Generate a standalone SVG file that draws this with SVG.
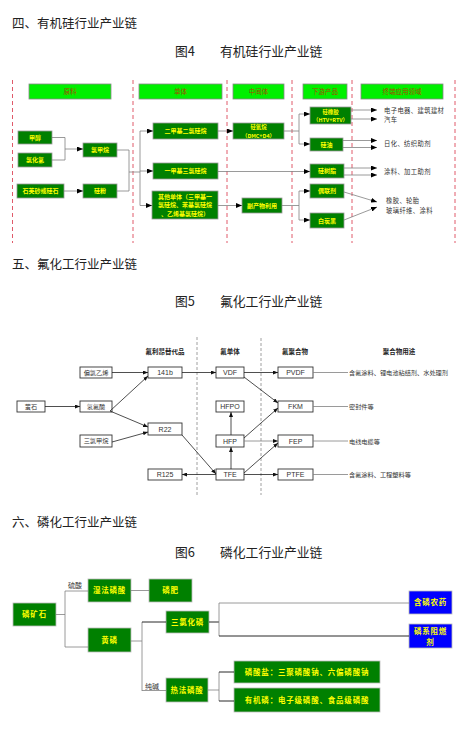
<svg xmlns="http://www.w3.org/2000/svg" width="465" height="736" viewBox="0 0 465 736">
<defs>
<style>
text{font-family:"Noto Sans CJK SC","Liberation Sans",sans-serif}
.h1{font-size:12.5px;fill:#222}
.cap{font-size:12.8px;fill:#222}
.vd{stroke:#e05a6a;stroke-width:1;stroke-dasharray:4,3}
.vg{stroke:#888;stroke-width:0.8;stroke-dasharray:3,2}
.hdr rect{fill:#00f000;stroke:#888;stroke-width:0.8}
.hdr text{font-size:6.5px;fill:#a04a00;text-anchor:middle}
.g rect{fill:#008000;stroke:#999;stroke-width:0.8}
.g text{font-size:6px;font-weight:bold;fill:#ffff00;text-anchor:middle}
.g text.s{font-size:5.4px}
.w rect{fill:#fff;stroke:#333;stroke-width:0.9}
.w text{font-family:"Liberation Sans",sans-serif;font-size:7px;fill:#333;text-anchor:middle}
.w text.c{font-family:"Noto Sans CJK SC",sans-serif;font-size:6.2px}
.p rect{fill:#008000;stroke:#bbb;stroke-width:0.8}
.p text{font-size:7.5px;font-weight:bold;fill:#ffff00;text-anchor:middle;letter-spacing:0.8px}
.b rect{fill:#0000ff;stroke:#bbb;stroke-width:0.8}
.b text{font-size:7.5px;font-weight:bold;fill:#ffff00;text-anchor:middle;letter-spacing:0.8px}
.lg{fill:none;stroke:#808080;stroke-width:0.8}
.lk{fill:none;stroke:#222;stroke-width:0.8}
.lb{fill:none;stroke:#111;stroke-width:0.9}
.t1{font-size:6.3px;fill:#333;letter-spacing:0.4px}
.t2{font-size:6.2px;fill:#333}
.t3{font-size:6.5px;fill:#222;font-weight:bold;text-anchor:middle}
.t4{font-size:7px;fill:#333}
</style>
<marker id="a" markerUnits="userSpaceOnUse" markerWidth="6" markerHeight="5" refX="6" refY="2.5" orient="auto"><path d="M0,0 L6,2.5 L0,5 Z" fill="#000"/></marker>
<marker id="s" markerUnits="userSpaceOnUse" markerWidth="5" markerHeight="4" refX="5" refY="2" orient="auto"><path d="M0,0 L5,2 L0,4 Z" fill="#111"/></marker>
</defs>
<rect width="465" height="736" fill="#fff"/>

<!-- Section 4 -->
<text class="h1" x="12" y="28">四、有机硅行业产业链</text>
<text class="cap" x="175" y="56">图4</text>
<text class="cap" x="220" y="56">有机硅行业产业链</text>

<g id="dividers4">
<line class="vd" x1="12.5" y1="80" x2="12.5" y2="243"/>
<line class="vd" x1="133" y1="80" x2="133" y2="243"/>
<line class="vd" x1="227" y1="80" x2="227" y2="243"/>
<line class="vd" x1="292" y1="80" x2="292" y2="243"/>
<line class="vd" x1="352" y1="80" x2="352" y2="243"/>
<line class="vd" x1="455" y1="80" x2="455" y2="243"/>
</g>

<g id="h-yuanliao" class="hdr"><rect x="29" y="84" width="82" height="15"/><text x="70" y="94">原料</text></g>
<g id="h-danti" class="hdr"><rect x="139" y="84" width="83" height="15"/><text x="180.5" y="94">单体</text></g>
<g id="h-zhongjianti" class="hdr"><rect x="233" y="84" width="51" height="15"/><text x="258.5" y="94">中间体</text></g>
<g id="h-xiayou" class="hdr"><rect x="303" y="84" width="44" height="15"/><text x="325" y="94">下游产品</text></g>
<g id="h-zhongduan" class="hdr"><rect x="361" y="84" width="82" height="15"/><text x="402" y="94">终端应用领域</text></g>

<g id="n-jiachun" class="g"><rect x="18" y="131" width="34" height="13"/><text x="35" y="139.7">甲醇</text></g>
<g id="n-lvhuaqing" class="g"><rect x="18" y="153" width="34" height="14"/><text x="35" y="162.2">氯化氢</text></g>
<g id="n-lvjiawan" class="g"><rect x="83" y="143" width="34" height="14"/><text x="100" y="152.2">氯甲烷</text></g>
<g id="n-shiyingsha" class="g"><rect x="17" y="184" width="47" height="14"/><text x="40.5" y="193.2">石英砂或硅石</text></g>
<g id="n-guifen" class="g"><rect x="83" y="184" width="34" height="14"/><text x="100" y="193.2">硅粉</text></g>
<g id="n-erjia" class="g"><rect x="153" y="123" width="65" height="16"/><text x="185.5" y="133.2">二甲基二氯硅烷</text></g>
<g id="n-yijia" class="g"><rect x="153" y="163" width="65" height="16"/><text x="185.5" y="173.2">一甲基三氯硅烷</text></g>
<g id="n-qita" class="g"><rect x="152" y="191" width="66" height="28"/><text x="185" y="199">其他单体（三甲基一</text><text x="185" y="207.3">氯硅烷、苯基氯硅烷</text><text x="185" y="215.6">、乙烯基氯硅烷）</text></g>
<g id="n-guiyangwan" class="g"><rect x="233" y="123" width="51" height="16"/><text class="s" x="258.5" y="129.3">硅氧烷</text><text class="s" x="258.5" y="137.5">（DMC+D4）</text></g>
<g id="n-fuchanwu" class="g"><rect x="242" y="198" width="40" height="15"/><text x="262" y="207.7">副产物利用</text></g>
<g id="n-guixiangjiao" class="g"><rect x="310" y="107" width="41" height="17"/><text class="s" x="330.5" y="113.6">硅橡胶</text><text class="s" x="330.5" y="122">（HTV+RTV）</text></g>
<g id="n-guiyou" class="g"><rect x="310" y="138" width="33" height="13"/><text x="326.5" y="146.7">硅油</text></g>
<g id="n-guishuzhi" class="g"><rect x="310" y="164" width="34" height="14"/><text x="327" y="173.2">硅树脂</text></g>
<g id="n-oulianji" class="g"><rect x="310" y="184" width="34" height="14"/><text x="327" y="193.2">偶联剂</text></g>
<g id="n-baitanhei" class="g"><rect x="310" y="213" width="34" height="15"/><text x="327" y="222.7">白炭黑</text></g>

<g id="connectors4">
<path class="lg" d="M52,137.5 H65 V160 H52"/>
<path class="lg" d="M65,149 H83" marker-end="url(#a)"/>
<path class="lg" d="M64,191 H83" marker-end="url(#a)"/>
<path class="lg" d="M117,150 H129 V191 H117 M129,172 H140 M140,131 V205.5"/>
<path class="lg" d="M140,131 H153" marker-end="url(#a)"/>
<path class="lg" d="M140,171 H153" marker-end="url(#a)"/>
<path class="lg" d="M140,205.5 H152" marker-end="url(#a)"/>
<path class="lg" d="M218,131 H233" marker-end="url(#a)"/>
<path class="lg" d="M218,171.5 H310" marker-end="url(#a)"/>
<path class="lg" d="M218,205.5 H242" marker-end="url(#a)"/>
<path class="lg" d="M284,131 H299 M299,114 V144"/>
<path class="lg" d="M299,114 H310" marker-end="url(#a)"/>
<path class="lg" d="M299,144 H310" marker-end="url(#a)"/>
<path class="lg" d="M282,205.5 H299 M299,191 V220"/>
<path class="lg" d="M299,191 H310" marker-end="url(#a)"/>
<path class="lg" d="M299,220 H310" marker-end="url(#a)"/>
<path class="lg" d="M351,110 H377" marker-end="url(#a)"/>
<path class="lg" d="M351,119 H377" marker-end="url(#a)"/>
<path class="lg" d="M343,140.5 H377" marker-end="url(#a)"/>
<path class="lg" d="M343,147.5 H377" marker-end="url(#a)"/>
<path class="lg" d="M344,168 H377" marker-end="url(#a)"/>
<path class="lg" d="M344,175 H377" marker-end="url(#a)"/>
<path class="lg" d="M344,192 L377,202" marker-end="url(#a)"/>
<path class="lg" d="M344,220 L377,207" marker-end="url(#a)"/>
</g>
<text class="t1" x="384" y="113.2">电子电器、建筑建材</text>
<text class="t1" x="384" y="122.2">汽车</text>
<text class="t1" x="384" y="146.2">日化、纺织助剂</text>
<text class="t1" x="384" y="174.2">涂料、加工助剂</text>
<text class="t1" x="386" y="203.2">橡胶、轮胎</text>
<text class="t1" x="386" y="212.5">玻璃纤维、涂料</text>

<!-- Section 5 -->
<text class="h1" x="12" y="269">五、氟化工行业产业链</text>
<text class="cap" x="175" y="306">图5</text>
<text class="cap" x="220" y="306">氟化工行业产业链</text>

<g id="dividers5">
<line class="vg" x1="197" y1="337" x2="197" y2="495"/>
<line class="vg" x1="261" y1="338" x2="261" y2="495"/>
</g>
<text class="t3" x="165" y="354">氟利昂替代品</text>
<text class="t3" x="230" y="354">氟单体</text>
<text class="t3" x="295" y="354">氟聚合物</text>
<text class="t3" x="399" y="354">聚合物用途</text>

<g id="n-yingshi" class="w"><rect x="17" y="401" width="28" height="11"/><text class="c" x="31" y="408.8">萤石</text></g>
<g id="n-pianlvyixi" class="w"><rect x="80" y="367" width="32" height="11"/><text class="c" x="96" y="374.8">偏氯乙烯</text></g>
<g id="n-qingfusuan" class="w"><rect x="80" y="401" width="32" height="11"/><text class="c" x="96" y="408.8">氢氟酸</text></g>
<g id="n-sanlvjiawan" class="w"><rect x="80" y="435" width="32" height="12"/><text class="c" x="96" y="443.3">三氯甲烷</text></g>
<g id="n-141b" class="w"><rect x="148" y="367" width="34" height="11"/><text x="165" y="375">141b</text></g>
<g id="n-r22" class="w"><rect x="148" y="423" width="34" height="12"/><text x="165" y="431.5">R22</text></g>
<g id="n-r125" class="w"><rect x="148" y="469" width="34" height="11"/><text x="165" y="477">R125</text></g>
<g id="n-vdf" class="w"><rect x="216" y="367" width="28" height="11"/><text x="230" y="375">VDF</text></g>
<g id="n-hfpo" class="w"><rect x="216" y="401" width="28" height="11"/><text x="230" y="409">HFPO</text></g>
<g id="n-hfp" class="w"><rect x="216" y="435" width="28" height="12"/><text x="230" y="443.5">HFP</text></g>
<g id="n-tfe" class="w"><rect x="216" y="469" width="28" height="11"/><text x="230" y="477">TFE</text></g>
<g id="n-pvdf" class="w"><rect x="278" y="367" width="35" height="11"/><text x="295.5" y="375">PVDF</text></g>
<g id="n-fkm" class="w"><rect x="278" y="401" width="35" height="11"/><text x="295.5" y="409">FKM</text></g>
<g id="n-fep" class="w"><rect x="278" y="435" width="35" height="12"/><text x="295.5" y="443.5">FEP</text></g>
<g id="n-ptfe" class="w"><rect x="278" y="469" width="35" height="11"/><text x="295.5" y="477">PTFE</text></g>

<g id="connectors5">
<path class="lk" d="M112,372.5 H148" marker-end="url(#s)"/>
<path class="lk" d="M45,406.5 H80" marker-end="url(#s)"/>
<path class="lk" d="M110,411 L148,376" marker-end="url(#s)"/>
<path class="lk" d="M110,411 L148,427" marker-end="url(#s)"/>
<path class="lk" d="M112,442 L148,432" marker-end="url(#s)"/>
<path class="lk" d="M182,372.5 H216" marker-end="url(#s)"/>
<path class="lk" d="M182,435 L216,474" marker-end="url(#s)"/>
<path class="lk" d="M216,474.5 H182" marker-end="url(#s)"/>
<path class="lk" d="M231,469 V447" marker-end="url(#s)"/>
<path class="lk" d="M231,435 V412" marker-end="url(#s)"/>
<path class="lk" d="M244,372.5 H278" marker-end="url(#s)"/>
<path class="lk" d="M244,377 L278,403" marker-end="url(#s)"/>
<path class="lk" d="M244,438 L278,408" marker-end="url(#s)"/>
<path class="lg" d="M244,441 H278" marker-end="url(#s)"/>
<path class="lk" d="M244,473 L278,443" marker-end="url(#s)"/>
<path class="lk" d="M244,474.5 H278" marker-end="url(#s)"/>
<path class="lg" d="M313,372.5 H348 M313,406.5 H348 M313,441 H348 M313,474.5 H348"/>
</g>
<text class="t2" x="349" y="375">含氟涂料、锂电池粘结剂、水处理剂</text>
<text class="t2" x="349" y="409">密封件等</text>
<text class="t2" x="349" y="443.5">电线电缆等</text>
<text class="t2" x="349" y="477">含氟涂料、工程塑料等</text>

<!-- Section 6 -->
<text class="h1" x="12" y="527">六、磷化工行业产业链</text>
<text class="cap" x="175" y="557">图6</text>
<text class="cap" x="220" y="557">磷化工行业产业链</text>

<g id="n-linkuangshi" class="p"><rect x="13" y="603" width="43" height="23"/><text x="34.5" y="617.3">磷矿石</text></g>
<g id="n-shifalinsuan" class="p"><rect x="88" y="579" width="43" height="23"/><text x="109.5" y="593.3">湿法磷酸</text></g>
<g id="n-linfei" class="p"><rect x="149" y="579" width="43" height="23"/><text x="170.5" y="593.3">磷肥</text></g>
<g id="n-huanglin" class="p"><rect x="88" y="628" width="43" height="24"/><text x="109.5" y="642.8">黄磷</text></g>
<g id="n-sanlvhualin" class="p"><rect x="166" y="611" width="43" height="22"/><text x="187.5" y="624.8">三氯化磷</text></g>
<g id="n-refalinsuan" class="p"><rect x="166" y="678" width="42" height="24"/><text x="187" y="692.8">热法磷酸</text></g>
<g id="n-linsuanyan" class="p"><rect x="234" y="661" width="146" height="22"/><text x="307" y="674.8">磷酸盐：三聚磷酸钠、六偏磷酸钠</text></g>
<g id="n-youjilin" class="p"><rect x="234" y="688" width="146" height="24"/><text x="307" y="702.8">有机磷：电子级磷酸、食品级磷酸</text></g>
<g id="n-hanlinnongyao" class="b"><rect x="409" y="591" width="43" height="23"/><text x="430.5" y="605.3">含磷农药</text></g>
<g id="n-linxizuranji" class="b"><rect x="409" y="624" width="43" height="24"/><text x="430.5" y="634">磷系阻燃</text><text x="430.5" y="644.5">剂</text></g>

<g id="connectors6">
<path class="lg" d="M56,614.5 H65 M65,591 V647 M65,591 H88 M65,647 H88" stroke-width="1"/>
<path class="lg" d="M131,590.5 H149" stroke-width="1"/>
<path class="lg" d="M131,641 H142 M142,622 V691 M142,690.5 H166" stroke-width="1"/>
<path class="lb" d="M142,622 H166"/>
<path class="lb" d="M209,622 H219"/>
<path class="lg" d="M219,603 V636 M219,603 H409" stroke-width="1"/>
<path class="lb" d="M219,636 H409"/>
<path class="lg" d="M208,690 H219 M219,672 V701" stroke-width="1"/>
<path class="lb" d="M219,672 H234 M219,701 H234"/>
</g>
<text class="t4" x="68" y="588">硫酸</text>
<text class="t4" x="145" y="688.5">纯碱</text>
</svg>
